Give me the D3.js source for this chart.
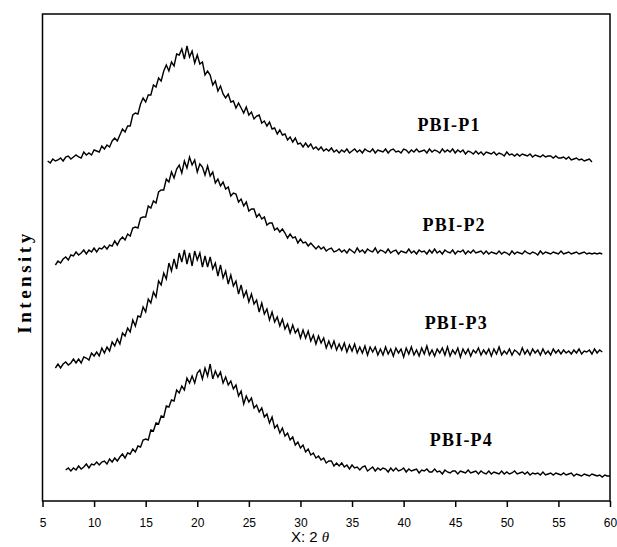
<!DOCTYPE html>
<html>
<head>
<meta charset="utf-8">
<script src="https://cdn.jsdelivr.net/npm/d3@7"></script>
<style>
  body { margin: 0; background: #fff; }
  svg { display: block; }
</style>
</head>
<body>
<div id="chart"></div>
<script>
// 2-theta sampling: start angle and step for each pattern
var step = 0.25;
var starts = [5.5, 6.25, 6.25, 7.25];
var names = ["PBI-P1", "PBI-P2", "PBI-P3", "PBI-P4"];
var xTicks = [5, 10, 15, 20, 25, 30, 35, 40, 45, 50, 55, 60];

// intensities (a.u., already stacked with offsets)
var p1 = [340, 338,
  342, 340, 341, 343,  340, 344, 345, 342,  344, 346, 344, 343,  349, 346, 348, 346,
  351, 350, 349, 355,  352, 356, 354, 360,  363, 360, 366, 372,  369, 375, 375, 386,
  388, 387, 397, 403,  399, 406, 406, 416,  414, 423, 420, 430,  436, 430, 439, 435,
  447, 446, 452, 442,  455, 444, 450, 438,  446, 437, 439, 426,  430, 426, 416, 420,
  410, 415, 407, 403,  407, 399, 400, 393,  398, 393, 388, 394,  386, 389, 382, 385,
  386, 378, 380, 375,  379, 372, 373, 367,  371, 366, 367, 361,  364, 359, 363, 357,
  358, 354, 358, 354,  357, 352, 354, 351,  354, 350, 352, 350,  353, 349, 351, 348,
  351, 349, 352, 348,  350, 352, 349, 351,  348, 352, 350, 349,  352, 348, 351, 350,
  349, 352, 348, 351,  352, 349, 350, 348,  352, 351, 348, 351,  349, 352, 349, 350,
  351, 348, 352, 349,  351, 350, 348, 352,  349, 351, 349, 352,  348, 351, 349, 351,
  347, 350, 349, 347,  350, 347, 349, 346,  349, 348, 347, 349,  346, 348, 347, 345,
  349, 346, 347, 345,  347, 345, 347, 346,  345, 347, 344, 346,  345, 344, 346, 344,
  345, 345, 343, 345,  343, 343, 344, 342,  344, 341, 342, 343,  341, 342, 340, 341,
  342, 339];

var p2 = [236, 240, 238,
  242, 244, 241, 246,  245, 249, 246, 248,  251, 247, 251, 249,  253, 249, 253, 252,
  255, 252, 256, 255,  260, 256, 261, 264,  261, 267, 265, 273,  274, 273, 283, 284,
  284, 295, 293, 300,  298, 309, 311, 311,  322, 319, 329, 323,  332, 336, 328, 340,
  333, 344, 336, 341,  329, 337, 334, 326,  335, 325, 329, 318,  322, 315, 319, 312,
  314, 305, 308, 307,  299, 302, 295, 299,  290, 292, 292, 284,  287, 282, 284, 276,
  278, 278, 271, 273,  269, 272, 268, 263,  267, 263, 264, 258,  262, 258, 259, 255,
  258, 255, 252, 255,  252, 254, 250, 252,  253, 249, 250, 252,  249, 251, 248, 252,
  250, 248, 253, 249,  251, 248, 252, 250,  249, 253, 248, 251,  250, 248, 252, 248,
  250, 251, 247, 250,  249, 248, 252, 248,  250, 247, 251, 249,  250, 247, 251, 248,
  252, 248, 250, 247,  251, 249, 248, 251,  247, 250, 249, 251,  247, 250, 248, 251,
  248, 249, 250, 247,  250, 247, 249, 248,  247, 250, 247, 249,  248, 246, 250, 247,
  249, 248, 247, 250,  248, 247, 249, 248,  246, 250, 247, 249,  248, 247, 249, 248,
  247, 250, 247, 248,  249, 247, 248, 249,  247, 248, 249, 247,  248, 247, 248, 247,
  248, 247];

var p3 = [133, 137, 133,
  137, 139, 136, 138,  142, 138, 142, 138,  144, 143, 141, 148,  145, 149, 145, 153,
  148, 154, 150, 159,  155, 162, 157, 168,  165, 173, 169, 181,  175, 185, 184, 194,
  189, 202, 198, 209,  204, 220, 216, 228,  222, 238, 230, 242,  232, 248, 239, 251,
  237, 248, 235, 250,  241, 248, 234, 245,  234, 244, 232, 238,  225, 236, 223, 230,
  217, 226, 215, 220,  207, 216, 204, 210,  199, 207, 197, 201,  189, 198, 187, 192,
  181, 189, 179, 184,  175, 182, 172, 177,  168, 176, 168, 172,  163, 171, 163, 170,
  160, 166, 157, 165,  158, 163, 153, 160,  153, 160, 151, 157,  151, 158, 149, 156,
  150, 157, 148, 154,  148, 155, 146, 154,  149, 154, 146, 152,  146, 154, 147, 152,
  145, 153, 148, 152,  144, 153, 147, 154,  146, 151, 145, 153,  147, 155, 146, 151,
  145, 152, 148, 153,  146, 154, 145, 151,  147, 153, 144, 152,  147, 152, 145, 151,
  148, 153, 146, 151,  147, 152, 145, 152,  147, 154, 146, 150,  147, 152, 146, 151,
  149, 146, 153, 147,  151, 146, 152, 148,  151, 146, 152, 147,  150, 146, 152, 148,
  151, 147, 151, 148,  150, 147, 151, 148,  152, 147, 150, 149,  151, 147, 152, 148,
  151, 149];

var p4 = [31, 33, 30,
  33, 31, 35, 32,  34, 37, 33, 37,  36, 39, 36, 39,  40, 37, 42, 39,
  43, 40, 44, 47,  43, 48, 47, 52,  49, 55, 54, 61,  62, 61, 71, 70,
  78, 77, 85, 84,  95, 94, 101, 100,  111, 108, 115, 111,  123, 118, 125, 118,
  128, 131, 122, 133,  125, 137, 122, 130,  124, 129, 118, 124,  116, 120, 112, 116,
  105, 110, 97, 105,  99, 103, 93, 96,  89, 93, 84, 87,  78, 84, 73, 76,
  68, 73, 65, 68,  61, 64, 56, 59,  53, 56, 49, 52,  46, 48, 43, 45,
  41, 43, 38, 40,  40, 35, 38, 35,  38, 34, 36, 32,  36, 33, 34, 31,
  34, 35, 30, 32,  34, 30, 33, 31,  33, 32, 29, 33,  30, 33, 30, 31,
  33, 29, 32, 30,  31, 32, 28, 31,  30, 32, 29, 29,  32, 29, 30, 27,
  31, 29, 28, 30,  30, 27, 30, 29,  28, 31, 28, 29,  30, 27, 30, 28,
  27, 30, 27, 29,  28, 27, 30, 27,  29, 27, 28, 30,  27, 28, 29, 27,
  29, 26, 28, 27,  28, 26, 29, 26,  27, 28, 26, 28,  27, 26, 28, 26,
  27, 28, 25, 27,  26, 25, 27, 26,  25, 27, 26, 25,  26, 24, 26, 25,
  25];

var patterns = [p1, p2, p3, p4];

// where each sample label sits, in data units (2theta, a.u.)
var labelAt = [[44.4, 376], [44.9, 276], [45.1, 178], [45.6, 61]];

function init() {
    var W = 617, H = 547;
    var left = 42.5, right = 610, top = 14, bottom = 501;

    var svg = d3.select("#chart")
        .append("svg")
        .attr("width", W)
        .attr("height", H);

    var xScale = d3.scaleLinear()
        .domain([5, 60])
        .range([left, right]);

    var yScale = d3.scaleLinear()
        .domain([0, bottom - top])
        .range([bottom, top]);

    var line = d3.line()
        .x(function(d) { return xScale(d[0]); })
        .y(function(d) { return yScale(d[1]); });

    // plot frame
    svg.append("rect")
        .attr("x", left)
        .attr("y", top)
        .attr("width", right - left)
        .attr("height", bottom - top)
        .attr("fill", "none")
        .attr("stroke", "#000")
        .attr("stroke-width", 1.5);

    // the four patterns
    patterns.forEach(function(vals, k) {
        var pts = vals.map(function(v, i) { return [starts[k] + i * step, v]; });
        svg.append("path")
            .datum(pts)
            .attr("class", "line")
            .attr("d", line)
            .attr("fill", "none")
            .attr("stroke", "#000")
            .attr("stroke-width", 1.4);
    });

    // sample labels
    names.forEach(function(n, k) {
        svg.append("text")
            .attr("x", xScale(labelAt[k][0]))
            .attr("y", yScale(labelAt[k][1]))
            .attr("dy", "0.35em")
            .attr("text-anchor", "middle")
            .attr("font-family", "Liberation Serif, DejaVu Serif, serif")
            .attr("font-weight", "bold")
            .attr("font-size", 18)
            .attr("letter-spacing", 1.2)
            .text(n);
    });

    // x axis
    var xAxis = d3.axisBottom(xScale)
        .tickValues(xTicks)
        .tickSize(6)
        .tickSizeOuter(0)
        .tickPadding(11);
    var gx = svg.append("g")
        .attr("class", "x axis")
        .attr("transform", "translate(0," + bottom + ")")
        .call(xAxis);
    gx.select(".domain").remove();
    gx.selectAll("line").attr("stroke", "#000").attr("stroke-width", 1.5);
    gx.selectAll("text")
        .attr("font-family", "Liberation Sans, Arial, sans-serif")
        .attr("font-size", 12)
        .attr("fill", "#000");

    // axis titles
    var xt = svg.append("text")
        .attr("x", 310)
        .attr("y", 542)
        .attr("text-anchor", "middle")
        .attr("font-family", "Liberation Sans, Arial, sans-serif")
        .attr("font-size", 15);
    xt.append("tspan").text("X: 2 ");
    xt.append("tspan").attr("font-style", "italic").attr("font-family", "Liberation Serif, serif").text("\u03B8");

    svg.append("text")
        .attr("transform", "translate(31,282) rotate(-90)")
        .attr("text-anchor", "middle")
        .attr("font-family", "Liberation Serif, DejaVu Serif, serif")
        .attr("font-weight", "bold")
        .attr("font-size", 19)
        .attr("letter-spacing", 3.5)
        .text("Intensity");
}

window.onload = init;
</script>
</body>
</html>
